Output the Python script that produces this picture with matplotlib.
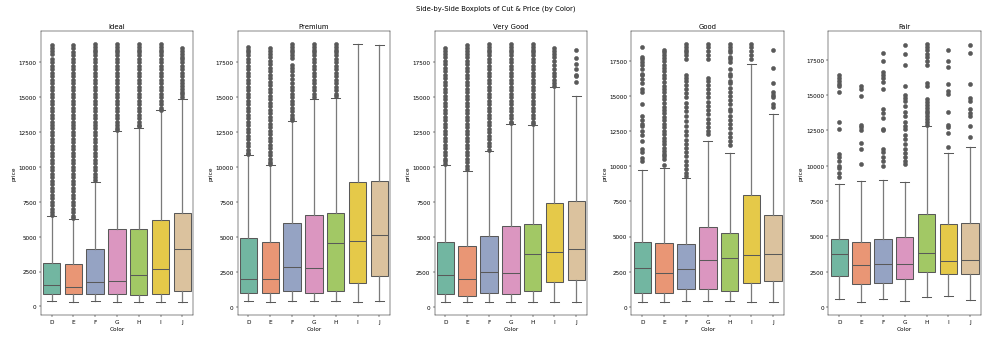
"""Side-by-side boxplots of diamond price by colour, one panel per cut."""
import matplotlib
matplotlib.use("Agg")
import matplotlib.pyplot as plt
import seaborn as sns

CUTS = ["Ideal", "Premium", "Very Good", "Good", "Fair"]
COLORS = ["D", "E", "F", "G", "H", "I", "J"]

# box statistics (price)
Q1 = {
    "Ideal":     [860, 860, 900, 880, 810, 860, 1120],
    "Premium":   [950, 1000, 1120, 1000, 1160, 1710, 2230],
    "Very Good": [880, 760, 950, 880, 1120, 1780, 1920],
    "Good":      [950, 1000, 1240, 1280, 1120, 1690, 1810],
    "Fair":      [2210, 1620, 1670, 2020, 2460, 2350, 2350],
}
MEDIAN = {
    "Ideal":     [1570, 1400, 1760, 1830, 2280, 2680, 4130],
    "Premium":   [2020, 1950, 2870, 2780, 4560, 4700, 5130],
    "Very Good": [2300, 2020, 2490, 2420, 3750, 3920, 4160],
    "Good":      [2760, 2400, 2680, 3350, 3490, 3680, 3750],
    "Fair":      [3760, 2980, 3050, 3050, 3830, 3240, 3330],
}
Q3 = {
    "Ideal":     [3110, 3040, 4130, 5560, 5580, 6180, 6700],
    "Premium":   [4920, 4610, 6010, 6580, 6720, 8910, 9030],
    "Very Good": [4610, 4350, 5040, 5750, 5890, 7430, 7580],
    "Good":      [4580, 4540, 4470, 5680, 5250, 7930, 6560],
    "Fair":      [4840, 4580, 4790, 4980, 6600, 5890, 5960],
}
WHISLO = {
    "Ideal":     [360, 310, 380, 330, 330, 330, 330],
    "Premium":   [400, 330, 380, 400, 400, 330, 380],
    "Very Good": [360, 360, 360, 360, 360, 330, 330],
    "Good":      [360, 330, 380, 400, 400, 360, 360],
    "Fair":      [540, 350, 540, 400, 700, 770, 470],
}
WHISHI = {
    "Ideal":     [6460, 6270, 8930, 12570, 12800, 14050, 14840],
    "Premium":   [10850, 10140, 13300, 14900, 14970, 18800, 18750],
    "Very Good": [10140, 9740, 11160, 13080, 13030, 15750, 15060],
    "Good":      [9770, 9910, 9190, 11830, 10980, 17270, 13710],
    "Fair":      [8700, 8900, 8990, 8820, 12810, 10870, 11290],
}

# outliers, in thousands of price, one list per colour D..J
FLIERS_IDEAL = [
    [18.7, 18.5, 18.3, 18.1, 17.7, 17.5, 17.25, 17.0, 16.75, 16.5, 16.25,
     16.0, 15.75, 15.5, 15.25, 15.0, 14.75, 14.5, 14.25, 14.0, 13.75, 13.5,
     13.25, 13.0, 12.75, 12.5, 12.25, 12.0, 11.75, 11.5, 11.25, 11.0, 10.75,
     10.5, 10.25, 10.0, 9.75, 9.5, 9.25, 9.0, 8.75, 8.5, 8.25, 8.0, 7.75,
     7.5, 7.25, 7.0, 6.75, 6.55],
    [18.7, 18.5, 18.2, 18.0, 17.75, 17.5, 17.25, 17.0, 16.75, 16.5, 16.25,
     16.0, 15.75, 15.5, 15.25, 15.0, 14.75, 14.5, 14.25, 14.0, 13.75, 13.5,
     13.25, 13.0, 12.75, 12.5, 12.25, 12.0, 11.75, 11.5, 11.25, 11.0, 10.75,
     10.5, 10.25, 10.0, 9.75, 9.5, 9.25, 9.0, 8.75, 8.5, 8.25, 8.0, 7.75,
     7.5, 7.25, 7.0, 6.75, 6.5, 6.35],
    [18.8, 18.6, 18.4, 18.2, 18.0, 17.75, 17.5, 17.25, 17.0, 16.75, 16.5,
     16.25, 16.0, 15.75, 15.5, 15.25, 15.0, 14.75, 14.5, 14.25, 14.0, 13.75,
     13.5, 13.25, 13.0, 12.75, 12.5, 12.25, 12.0, 11.75, 11.5, 11.25, 11.0,
     10.75, 10.5, 10.25, 10.0, 9.75, 9.5, 9.25, 9.05],
    [18.8, 18.6, 18.4, 18.2, 18.0, 17.75, 17.5, 17.25, 17.0, 16.75, 16.5,
     16.25, 16.0, 15.75, 15.5, 15.25, 15.0, 14.75, 14.5, 14.25, 14.0, 13.75,
     13.5, 13.25, 13.0, 12.75, 12.65],
    [18.8, 18.6, 18.4, 18.2, 18.0, 17.75, 17.5, 17.25, 17.0, 16.75, 16.5,
     16.25, 16.0, 15.75, 15.5, 15.25, 15.0, 14.75, 14.5, 14.25, 14.0, 13.75,
     13.5, 13.25, 13.0, 12.9],
    [18.8, 18.6, 18.4, 18.2, 18.0, 17.75, 17.5, 17.25, 17.0, 16.75, 16.5,
     16.25, 16.0, 15.75, 15.5, 15.25, 15.0, 14.75, 14.5, 14.25, 14.1],
    [18.5, 18.3, 18.1, 17.9, 17.7, 17.5, 17.25, 17.0, 16.75, 16.5, 16.25,
     16.0, 15.8, 15.6, 15.4, 15.2, 15.0],
]
FLIERS_PREMIUM = [
    [18.6, 18.4, 18.2, 18.0, 17.75, 17.5, 17.25, 17.0, 16.75, 16.5, 16.25,
     16.0, 15.75, 15.5, 15.25, 15.0, 14.75, 14.5, 14.25, 14.0, 13.75, 13.5,
     13.25, 13.0, 12.75, 12.5, 12.25, 12.0, 11.75, 11.5, 11.25, 11.0, 10.9],
    [18.5, 18.3, 18.1, 17.9, 17.6, 17.35, 17.1, 16.85, 16.6, 16.35, 16.1,
     15.85, 15.6, 15.35, 15.1, 14.85, 14.6, 14.35, 14.1, 13.85, 13.6, 13.35,
     13.1, 12.85, 12.6, 12.35, 12.1, 11.85, 11.6, 11.35, 11.1, 10.85, 10.6,
     10.35, 10.2],
    [18.8, 18.6, 18.4, 18.2, 18.0, 17.8, 17.3, 17.1, 16.9, 16.6, 16.3, 16.0,
     15.75, 15.5, 15.25, 15.0, 14.75, 14.5, 14.25, 14.0, 13.75, 13.5, 13.35],
    [18.8, 18.6, 18.4, 18.2, 18.0, 17.75, 17.5, 17.25, 17.0, 16.75, 16.5,
     16.25, 16.0, 15.75, 15.5, 15.25, 15.0],
    [18.8, 18.6, 18.4, 18.2, 18.0, 17.75, 17.5, 17.25, 17.0, 16.75, 16.5,
     16.25, 16.0, 15.75, 15.5, 15.25, 15.05],
    [],
    [],
]
FLIERS_VERY_GOOD = [
    [18.5, 18.3, 18.1, 17.9, 17.6, 17.35, 17.1, 16.85, 16.6, 16.35, 16.1,
     15.85, 15.6, 15.35, 15.1, 14.85, 14.6, 14.35, 14.1, 13.85, 13.6, 13.35,
     13.1, 12.85, 12.6, 12.35, 12.1, 11.85, 11.6, 11.35, 11.1, 10.85, 10.6,
     10.4, 10.2],
    [18.7, 18.5, 18.3, 18.1, 17.9, 17.6, 17.35, 17.1, 16.85, 16.6, 16.35,
     16.1, 15.85, 15.6, 15.35, 15.1, 14.85, 14.6, 14.35, 14.1, 13.85, 13.6,
     13.35, 13.1, 12.85, 12.6, 12.35, 12.1, 11.85, 11.6, 11.35, 11.1, 10.85,
     10.6, 10.35, 10.1, 9.85],
    [18.8, 18.6, 18.4, 18.2, 18.0, 17.75, 17.5, 17.25, 17.0, 16.75, 16.5,
     16.25, 16.0, 15.75, 15.5, 15.25, 15.0, 14.75, 14.5, 14.25, 14.0, 13.75,
     13.5, 13.25, 13.0, 12.75, 12.5, 12.25, 12.0, 11.75, 11.5, 11.25],
    [18.8, 18.6, 18.4, 18.2, 18.0, 17.75, 17.5, 17.25, 17.0, 16.75, 16.5,
     16.25, 16.0, 15.75, 15.5, 15.25, 15.0, 14.75, 14.5, 14.25, 14.0, 13.75,
     13.5, 13.25, 13.15],
    [18.8, 18.6, 18.4, 18.2, 18.0, 17.75, 17.5, 17.25, 17.0, 16.75, 16.5,
     16.25, 16.0, 15.75, 15.5, 15.25, 15.0, 14.75, 14.5, 14.25, 14.0, 13.75,
     13.5, 13.25, 13.1],
    [18.5, 18.3, 18.1, 17.9, 17.6, 17.3, 17.0, 16.7, 16.5, 16.2, 16.0, 15.8],
    [18.4, 17.8, 17.4, 17.0, 16.6, 16.5, 16.1],
]
FLIERS_GOOD = [
    [18.5, 17.8, 17.6, 17.4, 17.2, 16.9, 16.6, 16.5, 16.2, 15.9, 15.5, 15.3,
     14.4, 13.6, 13.3, 13.0, 12.9, 12.5, 12.2, 11.8, 11.2, 11.0, 10.6, 10.4],
    [18.3, 18.1, 17.9, 17.7, 17.5, 17.2, 17.0, 16.8, 16.5, 16.3, 16.0, 15.7,
     15.5, 15.3, 15.0, 14.8, 14.5, 14.2, 14.0, 13.8, 13.5, 13.3, 13.0, 12.8,
     12.5, 12.3, 12.0, 11.8, 11.6, 11.3, 11.1, 10.9, 10.7, 10.5, 10.1],
    [18.7, 18.5, 18.3, 18.1, 17.9, 17.6, 16.5, 16.3, 16.1, 15.8, 15.5, 15.2,
     14.9, 14.5, 14.2, 13.9, 13.6, 13.2, 12.9, 12.5, 12.2, 11.9, 11.6, 11.3,
     11.0, 10.7, 10.4, 10.1, 9.8, 9.5, 9.3],
    [18.7, 18.5, 18.2, 17.9, 17.6, 16.3, 16.1, 15.8, 15.5, 15.2, 14.9, 14.6,
     14.3, 14.0, 13.7, 13.4, 13.1, 12.8, 12.5, 12.3],
    [18.7, 18.5, 18.3, 18.1, 17.8, 17.6, 17.4, 16.9, 16.6, 16.4, 16.1, 15.9,
     15.6, 15.3, 15.0, 14.7, 14.4, 14.1, 13.9, 13.6, 13.3, 13.0, 12.7, 12.4,
     12.1, 11.8, 11.5],
    [18.7, 18.5, 18.2, 17.9, 17.6],
    [18.3, 17.0, 15.9, 15.3, 15.1, 14.9, 14.4, 14.2],
]
FLIERS_FAIR = [
    [16.4, 16.2, 16.0, 15.8, 15.6, 15.2, 13.1, 12.6, 10.8, 10.6, 10.3, 10.0,
     9.8, 9.5, 9.2],
    [15.6, 15.4, 14.9, 12.9, 12.7, 12.5, 11.6, 11.2, 10.1],
    [18.0, 17.4, 16.6, 16.4, 16.2, 15.9, 15.4, 14.0, 13.7, 13.4, 12.6, 12.5,
     11.2, 11.0, 10.6, 10.3, 10.0],
    [18.5, 17.9, 17.1, 15.6, 15.0, 14.8, 14.6, 14.2, 13.8, 13.5, 13.1, 12.8,
     12.6, 12.2, 11.9, 11.5, 11.2, 10.9, 10.6, 10.3, 10.1],
    [18.6, 18.4, 18.2, 17.9, 17.7, 17.4, 17.1, 15.85, 15.65, 14.7, 14.5,
     14.3, 14.1, 13.9, 13.7, 13.5, 13.3, 13.1, 12.9],
    [18.2, 17.4, 17.0, 15.8, 15.3, 15.1, 13.8, 12.9, 12.7, 12.3, 11.3],
    [18.5, 18.0, 15.8, 14.8, 14.6, 14.0, 13.7, 13.5, 12.8, 12.0],
]
FLIERS = {
    "Ideal": FLIERS_IDEAL,
    "Premium": FLIERS_PREMIUM,
    "Very Good": FLIERS_VERY_GOOD,
    "Good": FLIERS_GOOD,
    "Fair": FLIERS_FAIR,
}


def main():
    palette = [sns.desaturate(c, 0.75) for c in sns.color_palette("Set2", 7)]
    gray = "#595959"

    fig, axes = plt.subplots(1, 5, figsize=(24, 8.354), dpi=41.29)
    for ax, cut in zip(axes, CUTS):
        stats = []
        for i, col in enumerate(COLORS):
            stats.append(dict(
                label=col, med=MEDIAN[cut][i], q1=Q1[cut][i], q3=Q3[cut][i],
                whislo=WHISLO[cut][i], whishi=WHISHI[cut][i],
                fliers=[v * 1000 for v in FLIERS[cut][i]]))
        bp = ax.bxp(stats, positions=range(len(COLORS)), widths=0.8,
                    patch_artist=True,
                    boxprops=dict(edgecolor=gray, linewidth=1.8),
                    whiskerprops=dict(color="#7a7a7a", linewidth=2.2),
                    capprops=dict(color=gray, linewidth=1.8),
                    medianprops=dict(color=gray, linewidth=1.8),
                    flierprops=dict(marker="o", markersize=7,
                                    markerfacecolor=gray,
                                    markeredgecolor=gray))
        for patch, colour in zip(bp["boxes"], palette):
            patch.set_facecolor(colour)
        ax.set_xlim(-0.5, len(COLORS) - 0.5)
        ax.set_title(cut)
        ax.set_xlabel("Color")
        ax.set_ylabel("price")

    fig.suptitle("Side-by-Side Boxplots of Cut & Price (by Color)", y=0.985)
    fig.subplots_adjust(left=0.041, right=0.99, top=0.907, bottom=0.084,
                        wspace=0.29)
    fig.savefig("out.png", dpi=41.29)
    plt.close(fig)


if __name__ == "__main__":
    main()
